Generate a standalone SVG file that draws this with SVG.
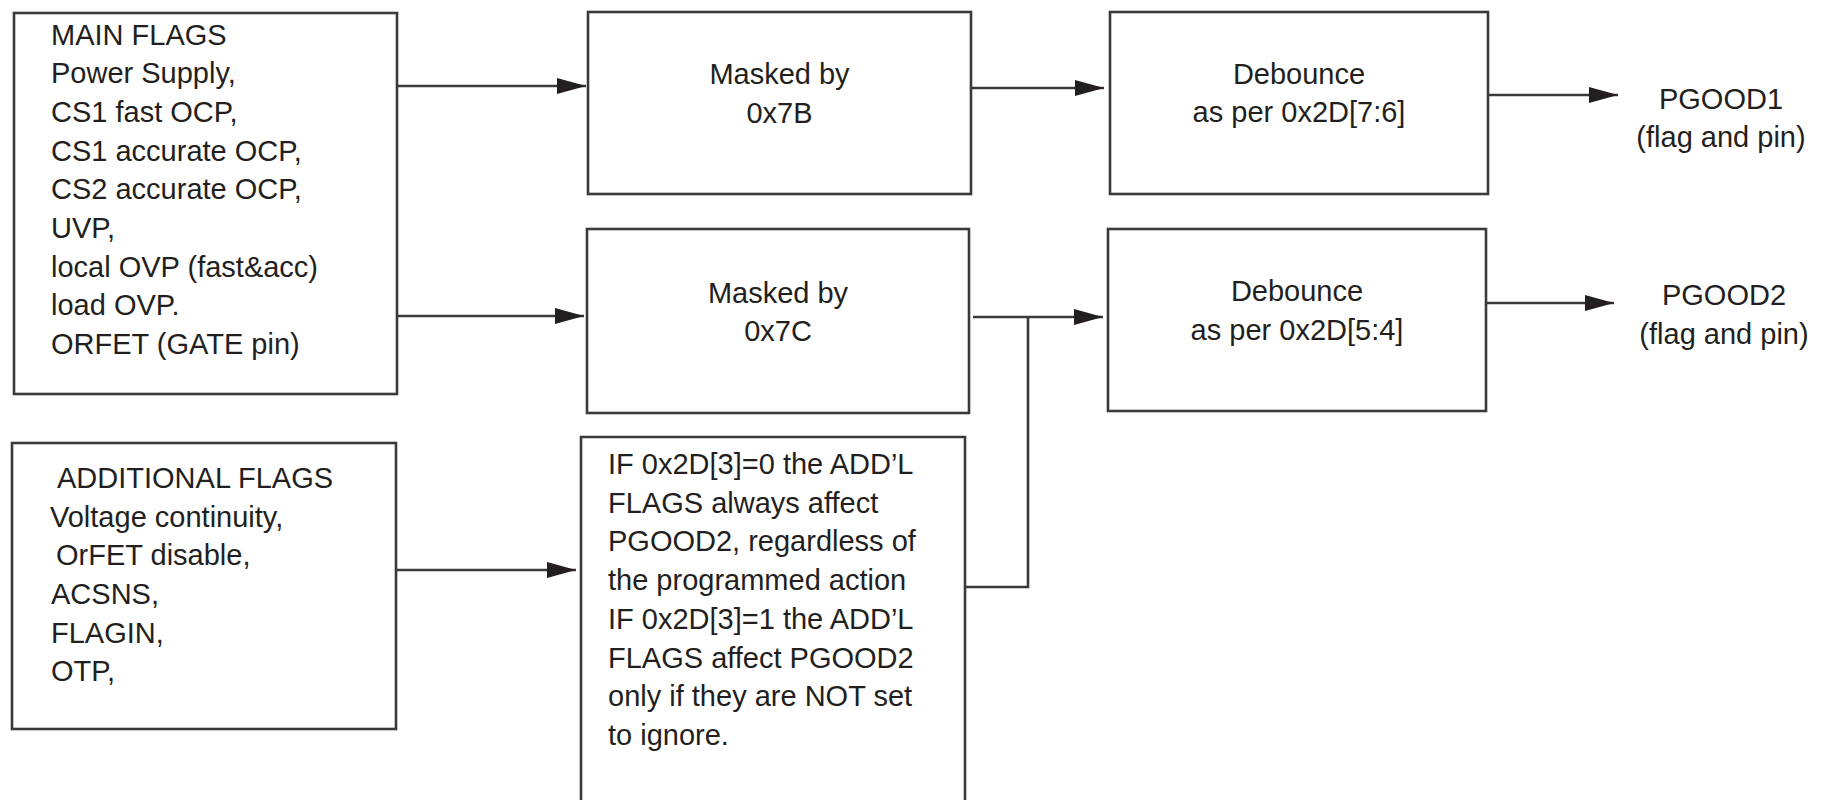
<svg xmlns="http://www.w3.org/2000/svg" width="1837" height="800" viewBox="0 0 1837 800">
<style>
.box{fill:#fff;stroke:#3a3a3a;stroke-width:2.6}
.ln{fill:none;stroke:#3a3a3a;stroke-width:2.6}
text{font-family:"Liberation Sans",Arial,sans-serif;font-size:29px;fill:#231f20}
.c{text-anchor:middle}
</style>
<defs>
<marker id="ah" markerUnits="userSpaceOnUse" markerWidth="30" markerHeight="18" refX="29" refY="8" orient="auto">
<path d="M0,0 L29,8 L0,16 Z" fill="#231f20"/>
</marker>
</defs>
<rect width="1837" height="800" fill="#fff"/>
<g id="connectors">
<line class="ln" x1="397" y1="86" x2="586" y2="86" marker-end="url(#ah)"/>
<line class="ln" x1="397" y1="316" x2="584" y2="316" marker-end="url(#ah)"/>
<line class="ln" x1="396" y1="570" x2="576" y2="570" marker-end="url(#ah)"/>
<line class="ln" x1="971" y1="88" x2="1104" y2="88" marker-end="url(#ah)"/>
<line class="ln" x1="973" y1="317" x2="1103" y2="317" marker-end="url(#ah)"/>
<polyline class="ln" points="965,587 1028,587 1028,317"/>
<line class="ln" x1="1488" y1="95" x2="1618" y2="95" marker-end="url(#ah)"/>
<line class="ln" x1="1486" y1="303" x2="1614" y2="303" marker-end="url(#ah)"/>
</g>
<g id="main-flags">
<rect class="box" x="14" y="13" width="383" height="381"/>
<text x="51" y="44.5">MAIN FLAGS</text>
<text x="51" y="83.2">Power Supply,</text>
<text x="51" y="121.9">CS1 fast OCP,</text>
<text x="51" y="160.6">CS1 accurate OCP,</text>
<text x="51" y="199.3">CS2 accurate OCP,</text>
<text x="51" y="238">UVP,</text>
<text x="51" y="276.7">local OVP (fast&amp;acc)</text>
<text x="51" y="315.4">load OVP.</text>
<text x="51" y="354.1">ORFET (GATE pin)</text>
</g>
<g id="additional-flags">
<rect class="box" x="12" y="443" width="384" height="286"/>
<text x="57" y="488">ADDITIONAL FLAGS</text>
<text x="50" y="527">Voltage continuity,</text>
<text x="56" y="565">OrFET disable,</text>
<text x="51" y="604">ACSNS,</text>
<text x="51" y="643">FLAGIN,</text>
<text x="51" y="681">OTP,</text>
</g>
<g id="masked-7b">
<rect class="box" x="588" y="12" width="383" height="182"/>
<text class="c" x="779.5" y="84">Masked by</text>
<text class="c" x="779.5" y="123">0x7B</text>
</g>
<g id="masked-7c">
<rect class="box" x="587" y="229" width="382" height="184"/>
<text class="c" x="778" y="303">Masked by</text>
<text class="c" x="778" y="341">0x7C</text>
</g>
<g id="debounce-1">
<rect class="box" x="1110" y="12" width="378" height="182"/>
<text class="c" x="1299" y="84">Debounce</text>
<text class="c" x="1299" y="122">as per 0x2D[7:6]</text>
</g>
<g id="debounce-2">
<rect class="box" x="1108" y="229" width="378" height="182"/>
<text class="c" x="1297" y="301">Debounce</text>
<text class="c" x="1297" y="340">as per 0x2D[5:4]</text>
</g>
<g id="pgood1">
<text class="c" x="1721" y="109">PGOOD1</text>
<text class="c" x="1721" y="147">(flag and pin)</text>
</g>
<g id="pgood2">
<text class="c" x="1724" y="305">PGOOD2</text>
<text class="c" x="1724" y="344">(flag and pin)</text>
</g>
<g id="condition">
<path class="box" d="M581,802 V437 H965 V802"/>
<text x="608" y="474">IF 0x2D[3]=0 the ADD’L</text>
<text x="608" y="512.7">FLAGS always affect</text>
<text x="608" y="551.4">PGOOD2, regardless of</text>
<text x="608" y="590.1">the programmed action</text>
<text x="608" y="628.8">IF 0x2D[3]=1 the ADD’L</text>
<text x="608" y="667.5">FLAGS affect PGOOD2</text>
<text x="608" y="706.2">only if they are NOT set</text>
<text x="608" y="744.9">to ignore.</text>
</g>
</svg>
